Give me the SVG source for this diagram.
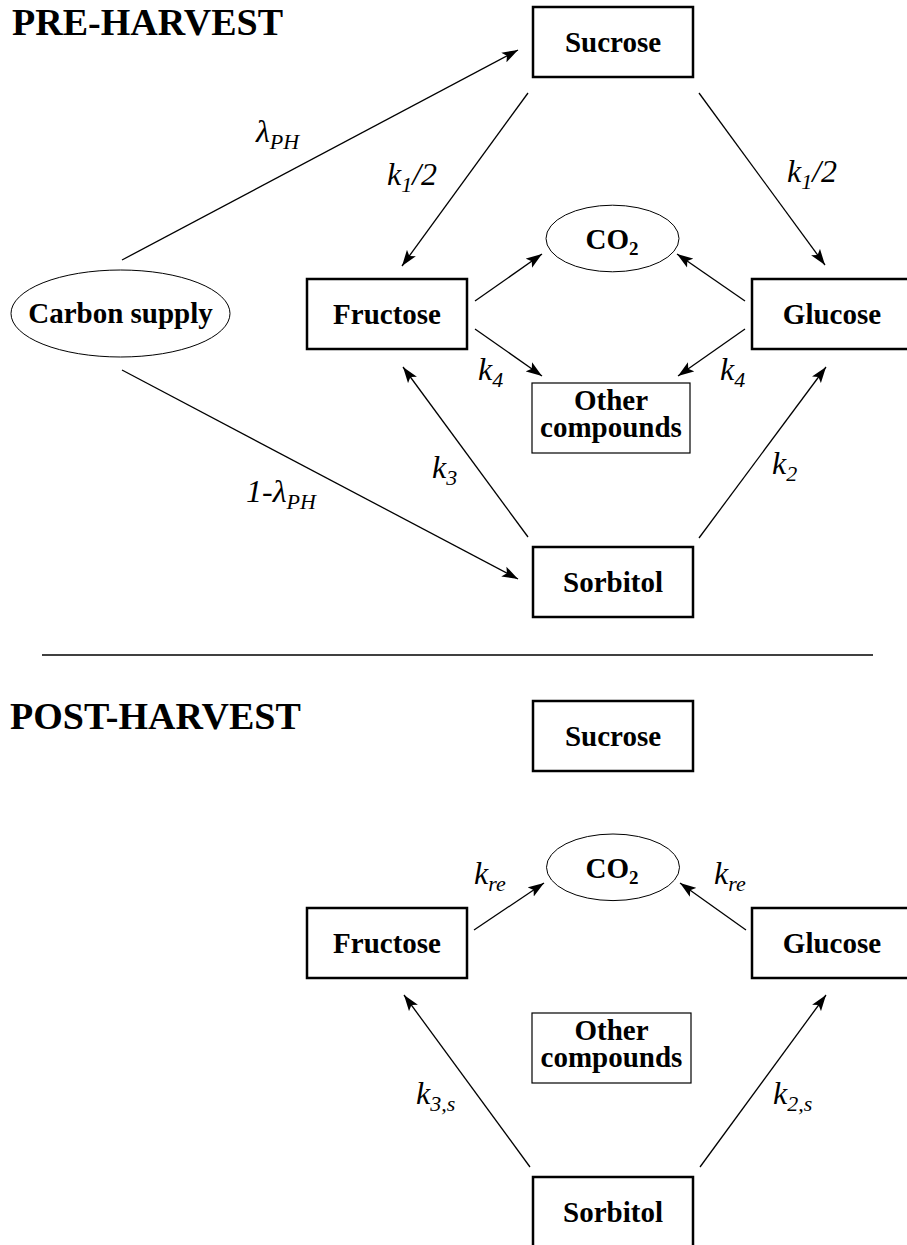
<svg xmlns="http://www.w3.org/2000/svg" width="907" height="1245" viewBox="0 0 907 1245">
<style>
  .box { fill: #fff; stroke: #000; stroke-width: 2.5; }
  .thin { fill: #fff; stroke: #000; stroke-width: 1.2; }
  .ell { fill: #fff; stroke: #000; stroke-width: 1; }
  .node { font-family: "Liberation Serif", serif; font-weight: bold; font-size: 29px; text-anchor: middle; fill: #000; }
  .title { font-family: "Liberation Serif", serif; font-weight: bold; font-size: 38px; fill: #000; }
  .lbl { font-family: "Liberation Serif", serif; font-style: italic; font-size: 32px; fill: #000; }
  .sub { font-size: 22px; }
  .conn line { stroke: #000; stroke-width: 1.3; marker-end: url(#arr); }
</style>
<defs>
  <marker id="arr" markerUnits="userSpaceOnUse" markerWidth="17" markerHeight="12" refX="16" refY="6" orient="auto">
    <path d="M0,0.5 L16,6 L0,11.5 L3.5,6 Z" fill="#000"/>
  </marker>
</defs>
<rect width="907" height="1245" fill="#fff"/>

<text class="title" x="12" y="35">PRE-HARVEST</text>
<text class="title" x="10" y="729">POST-HARVEST</text>
<line x1="42" y1="655" x2="873" y2="655" stroke="#000" stroke-width="1.5"/>

<g class="conn" id="connectors-pre">
  <line x1="122" y1="260" x2="518" y2="50"/>
  <line x1="122" y1="370" x2="518" y2="579"/>
  <line x1="528" y1="93" x2="402" y2="266"/>
  <line x1="699" y1="93" x2="825" y2="265"/>
  <line x1="475" y1="301" x2="542" y2="254"/>
  <line x1="475" y1="329" x2="542" y2="376"/>
  <line x1="745" y1="301" x2="677" y2="254"/>
  <line x1="745" y1="329" x2="678" y2="376"/>
  <line x1="528" y1="537" x2="403" y2="367"/>
  <line x1="699" y1="538" x2="826" y2="367"/>
</g>
<g class="conn" id="connectors-post">
  <line x1="474" y1="930" x2="544" y2="883"/>
  <line x1="746" y1="930" x2="680" y2="883"/>
  <line x1="530" y1="1167" x2="404" y2="995"/>
  <line x1="700" y1="1167" x2="826" y2="995"/>
</g>

<g id="labels-pre">
  <text class="lbl" x="256" y="142">λ<tspan class="sub" dy="7">PH</tspan></text>
  <text class="lbl" x="387" y="185">k<tspan class="sub" dy="7">1</tspan><tspan dy="-7">/2</tspan></text>
  <text class="lbl" x="787" y="182">k<tspan class="sub" dy="7">1</tspan><tspan dy="-7">/2</tspan></text>
  <text class="lbl" x="478" y="380">k<tspan class="sub" dy="7">4</tspan></text>
  <text class="lbl" x="720" y="380">k<tspan class="sub" dy="7">4</tspan></text>
  <text class="lbl" x="432" y="478">k<tspan class="sub" dy="7">3</tspan></text>
  <text class="lbl" x="772" y="474">k<tspan class="sub" dy="7">2</tspan></text>
  <text class="lbl" x="246" y="502">1-λ<tspan class="sub" dy="7">PH</tspan></text>
</g>
<g id="labels-post">
  <text class="lbl" x="474" y="884">k<tspan class="sub" dy="7">re</tspan></text>
  <text class="lbl" x="714" y="884">k<tspan class="sub" dy="7">re</tspan></text>
  <text class="lbl" x="416" y="1104">k<tspan class="sub" dy="7">3,s</tspan></text>
  <text class="lbl" x="773" y="1104">k<tspan class="sub" dy="7">2,s</tspan></text>
</g>

<g id="pre-sucrose"><rect class="box" x="533" y="7" width="160" height="70"/><text class="node" x="613" y="52">Sucrose</text></g>
<g id="pre-carbon"><ellipse class="ell" cx="120.5" cy="313.5" rx="109.5" ry="43.5"/><text class="node" x="120.5" y="323">Carbon supply</text></g>
<g id="pre-fructose"><rect class="box" x="307" y="279" width="160" height="70"/><text class="node" x="387" y="324">Fructose</text></g>
<g id="pre-glucose"><rect class="box" x="752" y="279" width="162" height="70"/><text class="node" x="832" y="324">Glucose</text></g>
<g id="pre-co2"><ellipse class="ell" cx="612.5" cy="238.5" rx="66.5" ry="33.3"/><text class="node" x="612" y="249">CO<tspan font-size="19" dy="6">2</tspan></text></g>
<g id="pre-other"><rect class="thin" x="532" y="383" width="158" height="70"/><text class="node" y="410"><tspan x="611">Other</tspan><tspan x="611" dy="27">compounds</tspan></text></g>
<g id="pre-sorbitol"><rect class="box" x="533" y="547" width="160" height="70"/><text class="node" x="613" y="592">Sorbitol</text></g>

<g id="post-sucrose"><rect class="box" x="533" y="701" width="160" height="70"/><text class="node" x="613" y="746">Sucrose</text></g>
<g id="post-co2"><ellipse class="ell" cx="613" cy="867.3" rx="66.5" ry="33.3"/><text class="node" x="612" y="878">CO<tspan font-size="19" dy="6">2</tspan></text></g>
<g id="post-fructose"><rect class="box" x="307" y="908" width="160" height="70"/><text class="node" x="387" y="953">Fructose</text></g>
<g id="post-glucose"><rect class="box" x="752" y="908" width="162" height="70"/><text class="node" x="832" y="953">Glucose</text></g>
<g id="post-other"><rect class="thin" x="532" y="1013" width="159" height="70"/><text class="node" y="1040"><tspan x="611.5">Other</tspan><tspan x="611.5" dy="27">compounds</tspan></text></g>
<g id="post-sorbitol"><rect class="box" x="533" y="1177" width="160" height="80"/><text class="node" x="613" y="1222">Sorbitol</text></g>
</svg>
